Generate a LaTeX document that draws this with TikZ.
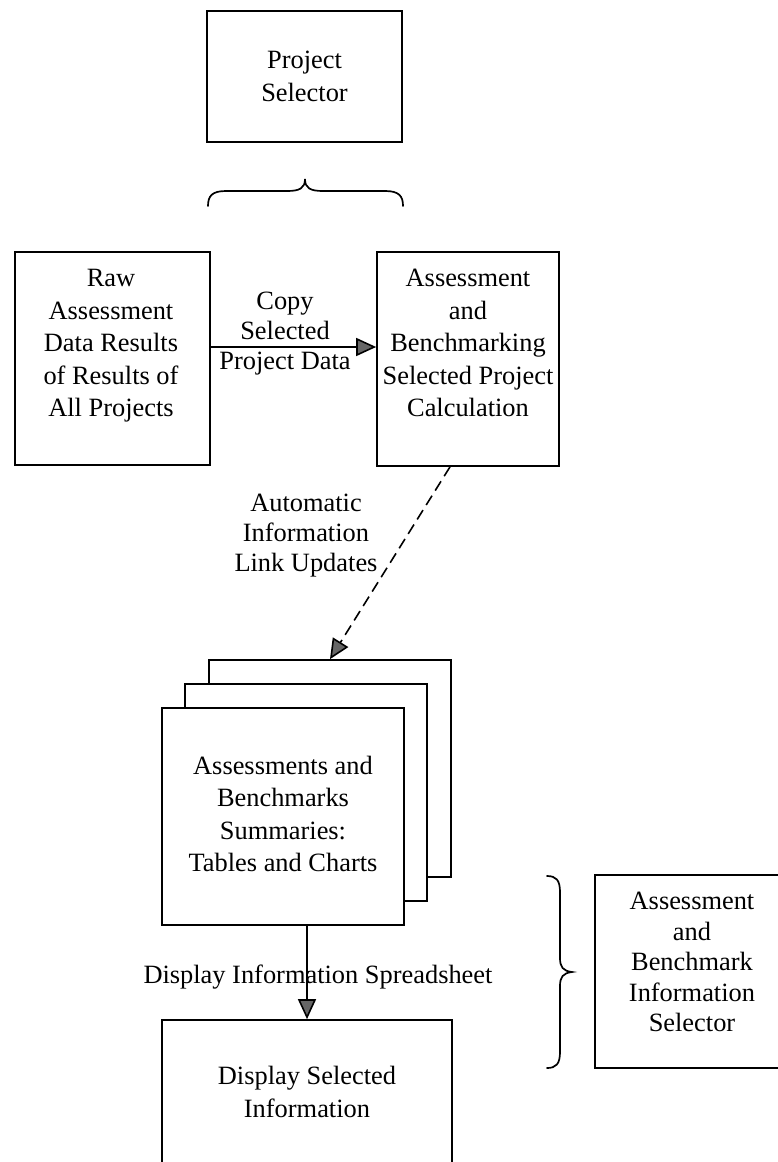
\documentclass[tikz,border=0pt]{standalone}
\usepackage{fontspec}
\setmainfont{Liberation Serif}
\usetikzlibrary{arrows.meta}
\definecolor{tipgray}{gray}{0.4}
\tikzset{
  box/.style={draw, line width=1.7pt, inner sep=0pt, fill=white},
  txt/.style={align=center, inner sep=0pt, font=\fontsize{26.4}{32.5}\selectfont},
  lbl/.style={align=center, inner sep=0pt, font=\fontsize{26.4}{30}\selectfont},
  link/.style={line width=1.6pt, -{Triangle[length=20pt,width=18pt,fill=tipgray]}},
  brace/.style={line width=1.7pt, line cap=round},
}
\begin{document}
\begin{tikzpicture}[x=1pt,y=-1pt]
\useasboundingbox (0,0) rectangle (778,1162);
\clip (0,0) rectangle (778,1162);

% project selector and its brace
\node[box, txt, minimum width=195pt, minimum height=131pt] (ps) at (304.5,76.5) {Project\\Selector};
\draw[brace] (208,206) .. controls (208,196) and (212,191) .. (226,191) -- (287,191)
  .. controls (300,191) and (305,188) .. (305,179)
  .. controls (305,188) and (310,191) .. (323,191) -- (385,191)
  .. controls (399,191) and (403,196) .. (403,206);

% raw data and calculation sheets
\node[box, minimum width=195pt, minimum height=213pt] (raw) at (112.5,358.5) {};
\node[txt] (rawtext) at (111,346) {Raw\\Assessment\\Data Results\\of Results of\\All Projects};
\node[box, minimum width=182pt, minimum height=214pt] (ab) at (468,359) {};
\node[txt] (abtext) at (468,343) {Assessment\\and\\Benchmarking\\Selected Project\\Calculation};

\coordinate (copyrow) at (0,347);
\draw[link] (raw.east |- copyrow) -- (ab.west |- copyrow);
\node[lbl] (copylbl) at (285,334) {Copy\\Selected\\Project Data};

% stack of summary sheets
\node[box, minimum width=242pt, minimum height=217pt] (back) at (330,768.5) {};
\node[box, minimum width=242pt, minimum height=217pt] (mid) at (306,792.5) {};
\node[box, minimum width=242pt, minimum height=217pt] (front) at (283,816.5) {};
\node[txt] (fronttext) at (283,814) {Assessments and\\Benchmarks\\Summaries:\\Tables and Charts};

\draw[link, dash pattern=on 11pt off 6pt] ([xshift=-18pt]ab.south) -- (back.north);
\node[lbl] (autolbl) at (306,536) {Automatic\\Information\\Link Updates};

% display sheet
\node[box, minimum width=290pt, minimum height=200pt] (disp) at (307,1120) {};
\node[txt] (disptext) at (307,1092) {Display Selected\\Information};
\draw[link] (front.south -| disp.north) -- (disp.north);
\node[lbl] (displbl) at (318,977) {Display Information Spreadsheet};

% information selector and its brace
\draw[brace] (547,876) .. controls (556,876) and (560,880) .. (560,892) -- (560,958)
  .. controls (560,967) and (563,971) .. (572,972)
  .. controls (563,973) and (560,977) .. (560,986) -- (560,1052)
  .. controls (560,1064) and (556,1068) .. (547,1068);
\node[box, minimum width=210pt, minimum height=193pt] (sel) at (700,971.5) {};
\node[txt, font=\fontsize{26.4}{30.5}\selectfont] (seltext) at (692,962) {Assessment\\and\\Benchmark\\Information\\Selector};
\end{tikzpicture}
\end{document}
